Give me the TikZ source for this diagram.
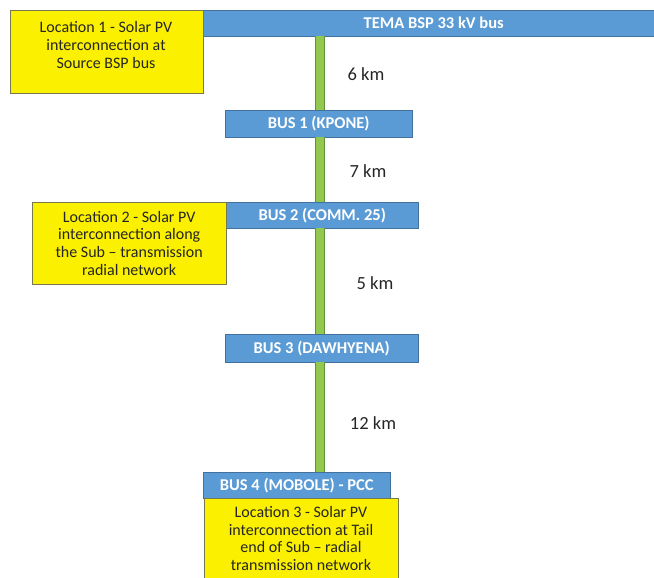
\documentclass[tikz,border=0pt]{standalone}
\usepackage{fontspec}
\setmainfont{Carlito}
\definecolor{busblue}{RGB}{91,155,213}
\definecolor{busedge}{RGB}{65,113,156}
\definecolor{locyellow}{RGB}{250,240,0}
\definecolor{locedge}{RGB}{120,120,80}
\definecolor{linegreen}{RGB}{146,200,80}
\definecolor{lineedge}{RGB}{95,145,60}

\begin{document}
\begin{tikzpicture}[x=1pt,y=-1pt,
  bus/.style={draw=busedge,fill=busblue,text=white,font=\fontsize{16.5}{18}\selectfont\bfseries,
    inner sep=0pt,anchor=north west},
  loc/.style={draw=locedge,fill=locyellow,inner sep=0pt,anchor=north west},
  loctext/.style={align=center,text=black!85,font=\fontsize{16}{17.6}\selectfont,inner sep=0pt},
  feeder/.style={draw=lineedge,line width=0.6pt,double=linegreen,double distance=8pt},
  dist/.style={text=black!85,font=\fontsize{18.5}{20}\selectfont}]
  \clip (0,0) rectangle (654,578);

  \coordinate (x0) at (320,0);

  \node[bus,minimum width=461pt,minimum height=26pt] (tema) at (203,10) {TEMA BSP 33 kV bus};
  \node[bus,minimum width=187pt,minimum height=27pt] (bus1) at (225,110) {BUS 1 (KPONE)};
  \node[bus,minimum width=192pt,minimum height=26pt] (bus2) at (226,202) {BUS 2 (COMM. 25)};
  \node[bus,minimum width=193pt,minimum height=28pt] (bus3) at (225,334) {BUS 3 (DAWHYENA)};
  \node[bus,minimum width=187pt,minimum height=26pt] (bus4) at (203,472) {BUS 4 (MOBOLE) - PCC};

  \draw[feeder] (tema.south -| x0) -- (bus1.north -| x0);
  \draw[feeder] (bus1.south -| x0) -- (bus2.north -| x0);
  \draw[feeder] (bus2.south -| x0) -- (bus3.north -| x0);
  \draw[feeder] (bus3.south -| x0) -- (bus4.north -| x0);

  \node[dist] (d1) at (366,74) {6 km};
  \node[dist] (d2) at (368,171) {7 km};
  \node[dist] (d3) at (375,283) {5 km};
  \node[dist] (d4) at (373,423) {12 km};

  \node[loc,minimum width=193pt,minimum height=83pt] (loc1) at (10,10) {};
  \node[loctext] (loc1t) at (106,45)
    {Location 1 - Solar PV\\interconnection at\\Source BSP bus};
  \node[loc,minimum width=194pt,minimum height=82pt] (loc2) at (32,202) {};
  \node[loctext] (loc2t) at (loc2.center)
    {Location 2 - Solar PV\\interconnection along\\the Sub -- transmission\\radial network};
  \node[loc,minimum width=194pt,minimum height=84pt] (loc3) at (204,498) {};
  \node[loctext] (loc3t) at (301,538.5)
    {Location 3 - Solar PV\\interconnection at Tail\\end of Sub -- radial\\transmission network};
\end{tikzpicture}
\end{document}
